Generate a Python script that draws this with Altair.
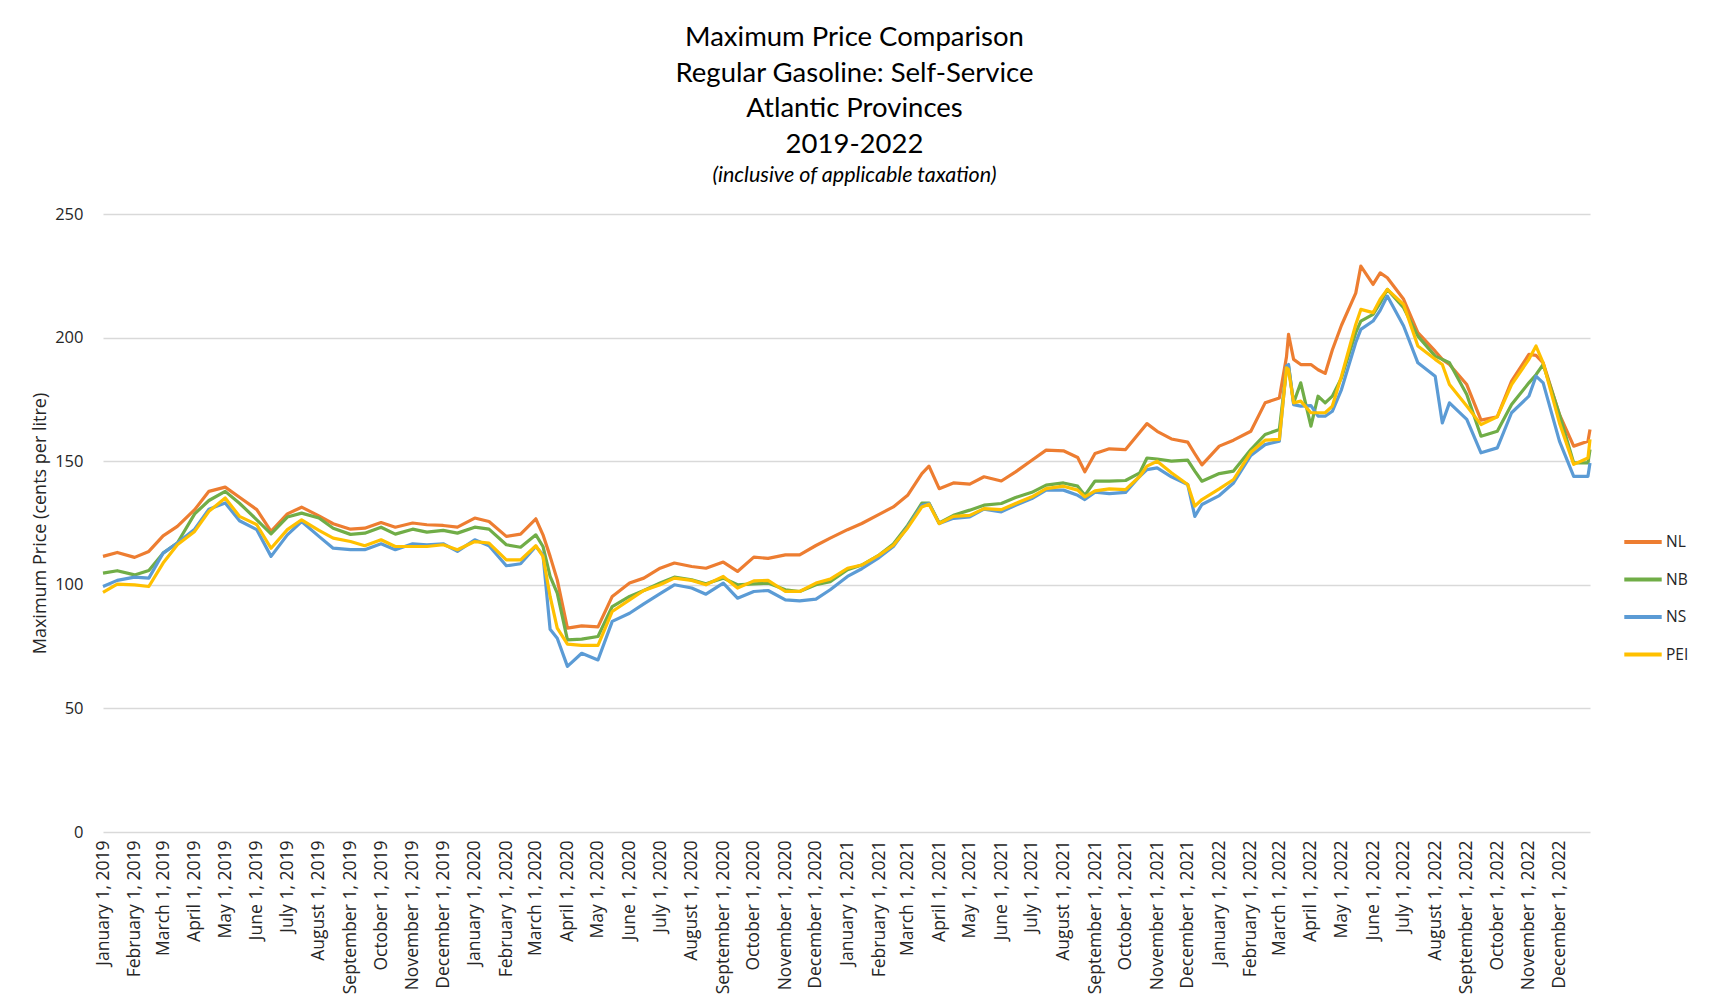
import altair as alt
import pandas as pd

# ---- data (cents per litre) ----
dates_2019 = ["2019-01-01", "2019-01-15", "2019-02-01", "2019-02-15", "2019-03-01", "2019-03-15",
              "2019-04-01", "2019-04-15", "2019-05-01", "2019-05-15", "2019-06-01", "2019-06-15",
              "2019-07-01", "2019-07-15", "2019-08-01", "2019-08-15", "2019-09-01", "2019-09-15",
              "2019-10-01", "2019-10-15", "2019-11-01", "2019-11-15", "2019-12-01", "2019-12-15"]
dates_2020 = ["2020-01-01", "2020-01-15", "2020-02-01", "2020-02-15", "2020-03-01", "2020-03-08",
              "2020-03-15", "2020-03-22", "2020-04-01", "2020-04-15", "2020-05-01", "2020-05-15",
              "2020-06-01", "2020-06-15", "2020-07-01", "2020-07-15", "2020-08-01", "2020-08-15",
              "2020-09-01", "2020-09-15", "2020-10-01", "2020-10-15", "2020-11-01", "2020-11-15",
              "2020-12-01", "2020-12-15"]
dates_2021 = ["2021-01-01", "2021-01-15", "2021-02-01", "2021-02-15", "2021-03-01", "2021-03-15",
              "2021-03-22", "2021-04-01", "2021-04-15", "2021-05-01", "2021-05-15", "2021-06-01",
              "2021-06-15", "2021-07-01", "2021-07-15", "2021-08-01", "2021-08-15", "2021-08-22",
              "2021-09-01", "2021-09-15", "2021-10-01", "2021-10-15", "2021-10-22", "2021-11-01",
              "2021-11-15", "2021-12-01", "2021-12-08", "2021-12-15"]
dates_2022 = ["2022-01-01", "2022-01-15", "2022-02-01", "2022-02-15", "2022-03-01", "2022-03-08",
              "2022-03-10", "2022-03-15", "2022-03-22", "2022-04-01", "2022-04-08", "2022-04-15",
              "2022-04-22", "2022-05-01", "2022-05-15", "2022-05-20", "2022-06-01", "2022-06-08",
              "2022-06-15", "2022-07-01", "2022-07-15", "2022-08-01", "2022-08-08", "2022-08-15",
              "2022-09-01", "2022-09-15", "2022-10-01", "2022-10-15", "2022-11-01", "2022-11-08",
              "2022-11-15", "2022-12-01", "2022-12-15", "2022-12-29", "2022-12-31"]
dates = dates_2019 + dates_2020 + dates_2021 + dates_2022

nl = [111.5, 113.1, 111.1, 113.5, 119.8, 123.6, 130.4, 137.8, 139.5, 135.4, 130.4, 121.6,
      128.7, 131.4, 127.9, 124.7, 122.5, 122.9, 125.2, 123.3, 125.0, 124.3, 124.0, 123.3,
      127.0, 125.6, 119.6, 120.5, 126.7, 120.2, 111.5, 102.0, 82.5, 83.4, 83.0, 95.3,
      100.7, 102.7, 106.7, 108.8, 107.4, 106.7, 109.2, 105.4, 111.2, 110.7, 112.1, 112.1,
      115.9, 118.9,
      122.3, 124.8, 128.5, 131.5, 136.2, 145.0, 148.0, 138.9, 141.2, 140.7, 143.7, 142.0,
      145.7, 150.4, 154.5, 154.2, 151.5, 145.7, 153.1, 155.0, 154.7, 161.7, 165.2, 162.1,
      159.0, 157.7, 153.0, 148.5,
      156.1, 158.5, 162.1, 173.6, 175.6, 192.2, 201.3, 191.2, 189.1, 189.1, 187.0, 185.5,
      195.0, 205.0, 218.0, 228.9, 221.5, 226.2, 224.2, 215.5, 202.0, 194.5, 191.2, 189.1,
      181.0, 166.6, 168.0, 182.4, 193.2, 192.8, 189.8, 168.9, 156.1, 158.1, 162.8]

nb = [104.7, 105.7, 104.0, 105.8, 112.8, 116.9, 128.7, 134.1, 137.8, 133.0, 126.3, 120.6,
      127.4, 129.0, 127.0, 122.9, 120.4, 120.9, 123.3, 120.5, 122.5, 121.3, 122.0, 120.9,
      123.3, 122.5, 116.2, 115.2, 120.2, 115.5, 103.4, 96.6, 77.7, 78.0, 79.1, 91.2,
      95.3, 97.7, 100.7, 103.1, 102.0, 100.4, 102.7, 100.0, 100.4, 100.7, 98.0, 97.3,
      100.0, 101.3,
      106.1, 108.0, 112.0, 116.5, 124.0, 133.0, 133.1, 125.0, 128.1, 130.2, 132.2, 132.9,
      135.3, 137.4, 140.3, 141.2, 139.9, 136.2, 142.0, 141.9, 142.2, 145.3, 151.3, 150.9,
      150.0, 150.4, 146.0, 141.9,
      145.0, 146.0, 154.7, 160.8, 162.8, 187.1, 188.5, 173.6, 181.7, 164.2, 176.3, 173.6,
      176.3, 183.7, 202.0, 206.7, 209.4, 214.0, 219.5, 212.1, 200.6, 192.5, 191.2, 189.8,
      177.0, 160.1, 162.1, 172.9, 181.7, 185.0, 189.1, 168.9, 149.3, 149.3, 154.7]

ns = [99.3, 101.8, 103.1, 102.7, 112.8, 116.9, 122.5, 130.6, 133.1, 125.9, 122.3, 111.5,
      120.2, 125.6, 119.6, 114.8, 114.2, 114.2, 116.6, 114.2, 116.6, 116.2, 116.6, 113.5,
      118.2, 115.8, 107.7, 108.5, 115.5, 112.1, 82.0, 78.4, 67.0, 72.3, 69.6, 85.2,
      88.5, 92.3, 96.4, 100.0, 98.7, 96.2, 100.7, 94.6, 97.3, 97.7, 93.9, 93.5,
      94.2, 98.0,
      103.4, 106.5, 111.0, 115.5, 123.4, 132.2, 132.9, 124.8, 126.9, 127.5, 130.6, 129.5,
      132.2, 134.9, 138.3, 138.3, 136.2, 134.5, 137.5, 136.9, 137.4, 143.9, 146.6, 147.3,
      143.7, 140.6, 127.7, 132.5,
      136.1, 141.2, 152.3, 156.7, 158.1, 188.5, 189.1, 172.9, 172.3, 172.5, 168.2, 168.2,
      170.2, 179.0, 198.0, 203.3, 206.7, 211.0, 216.8, 204.7, 189.8, 184.4, 165.5, 173.6,
      166.9, 153.4, 155.4, 169.6, 176.3, 184.4, 181.7, 158.1, 143.9, 143.9, 149.3]

pei = [96.9, 100.3, 100.0, 99.3, 108.8, 116.2, 121.6, 129.7, 135.1, 127.7, 124.3, 114.8,
       122.3, 126.3, 122.0, 118.9, 117.5, 115.8, 118.2, 115.5, 115.5, 115.5, 116.2, 114.2,
       117.5, 116.9, 110.1, 110.1, 115.8, 111.5, 95.3, 82.5, 76.0, 75.5, 75.5, 89.2,
       93.9, 97.7, 100.0, 102.7, 101.8, 100.0, 103.4, 98.7, 101.6, 101.8, 97.3, 97.3,
       100.7, 102.3,
       106.7, 108.0, 112.0, 116.0, 123.0, 131.5, 132.6, 124.8, 127.7, 128.1, 130.8, 130.4,
       132.9, 135.6, 138.9, 139.9, 138.3, 135.6, 138.0, 138.8, 138.5, 143.9, 148.0, 150.0,
       145.3, 140.6, 131.8, 134.5,
       138.8, 142.6, 153.6, 158.5, 158.8, 187.8, 187.1, 173.6, 174.3, 169.6, 169.6, 169.6,
       172.3, 184.4, 205.3, 211.4, 210.1, 215.5, 219.5, 213.4, 196.6, 191.2, 189.1, 181.0,
       172.3, 164.8, 168.0, 181.0, 191.2, 196.6, 189.8, 165.5, 148.7, 151.3, 158.8]

provinces = ["NL", "NB", "NS", "PEI"]
colors = ["#ED7D31", "#70AD47", "#5B9BD5", "#FFC000"]
y_ticks = [0, 50, 100, 150, 200, 250]
title_lines = ["Maximum Price Comparison", "Regular Gasoline: Self-Service",
               "Atlantic Provinces", "2019-2022"]
subtitle = "(inclusive of applicable taxation)"
y_title = "Maximum Price (cents per litre)"

rows = []
for name, vals in zip(provinces, [nl, nb, ns, pei]):
    for d, v in zip(dates, vals):
        rows.append({"date": d + "T00:00:00", "province": name, "price": v})
df = pd.DataFrame(rows)

month_ticks = [alt.DateTime(year=y, month=m, date=1) for y in range(2019, 2023) for m in range(1, 13)]

LABEL_FONT = "Open Sans"
TEXT_COLOR = "#262626"

chart = alt.Chart(df).mark_line(strokeWidth=3.2, strokeJoin="round").encode(
    x=alt.X("date:T",
            scale=alt.Scale(domain=[alt.DateTime(year=2019, month=1, date=1),
                                    alt.DateTime(year=2022, month=12, date=31)]),
            axis=alt.Axis(values=month_ticks, format="%B %-d, %Y", labelAngle=270,
                          labelOverlap=False, labelFlush=False, labelLimit=300,
                          labelFontSize=17.5, grid=False, domain=False,
                          ticks=False, labelPadding=8, title=None)),
    y=alt.Y("price:Q",
            scale=alt.Scale(domain=[0, 250], nice=False),
            axis=alt.Axis(values=y_ticks, grid=True, gridColor="#d9d9d9", gridWidth=1.3,
                          domain=False, ticks=False, labelPadding=20, labelFontSize=16.5,
                          title=y_title, titleFontSize=18, titlePadding=5)),
    color=alt.Color("province:N",
                    scale=alt.Scale(domain=provinces, range=colors),
                    sort=provinces,
                    legend=alt.Legend(title=None, orient="none", legendX=1519, legendY=307,
                                      symbolType="stroke", symbolStrokeWidth=4,
                                      symbolSize=1400, labelFontSize=15.5,
                                      labelFont=LABEL_FONT, labelColor=TEXT_COLOR,
                                      rowPadding=7.5, labelOffset=2)),
).properties(
    width=1487,
    height=618,
    padding={"left": 95, "top": 206, "right": 110, "bottom": 172},
    autosize=alt.AutoSizeParams(type="none"),
    background="white",
    title=alt.TitleParams(text=title_lines, subtitle=subtitle, font="Lato", fontSize=27.5,
                          fontWeight="normal", color="#000000", lineHeight=35.7,
                          subtitleFont="Lato", subtitleFontSize=21.5,
                          subtitleFontStyle="italic", subtitleColor="#000000",
                          subtitlePadding=6, anchor="middle", offset=20, dx=8),
).configure_view(stroke=None).configure_axis(
    labelFont=LABEL_FONT, labelColor=TEXT_COLOR,
    titleFont=LABEL_FONT, titleFontWeight="normal", titleColor=TEXT_COLOR,
)

chart.save("out.html", embed_options={"renderer": "svg", "actions": False})
